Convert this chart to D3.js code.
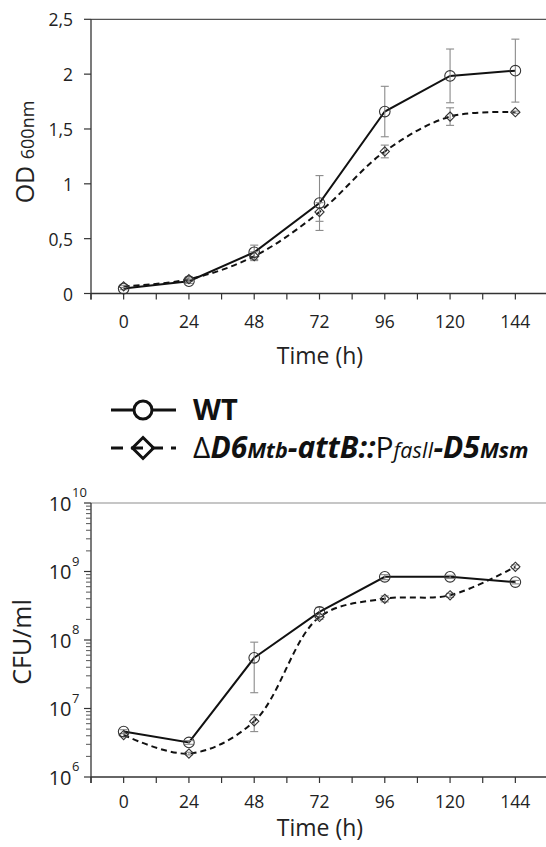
<!DOCTYPE html>
<html><head><meta charset="utf-8">
<script src="https://cdn.jsdelivr.net/npm/d3@7"></script>
<style>html,body{margin:0;padding:0;background:#fff;}svg{display:block;font-family:"Open Sans",sans-serif;}</style>
</head><body>
<svg id="c" width="546" height="847"></svg>
<script>
// ---- data ----
const times = ["0","24","48","72","96","120","144"];
const odTicks = [0, 0.5, 1, 1.5, 2, 2.5];
const odTickLabels = ["0","0,5","1","1,5","2","2,5"];
const odWT = [0.045, 0.112, 0.376, 0.825, 1.659, 1.984, 2.032];
const odWTerr = [0.01, 0.02, 0.065, 0.25, 0.23, 0.245, 0.287];
const odMut = [0.065, 0.13, 0.34, 0.743, 1.295, 1.613, 1.653];
const odMutErr = [0.01, 0.02, 0.04, 0.085, 0.058, 0.08, 0.01];
const cfuExp = [6, 7, 8, 9, 10];
const cfuWT = [4.6e6, 3.2e6, 5.5e7, 2.57e8, 8.35e8, 8.35e8, 7.0e8];
const cfuWTlow = [4.3e6, 3.0e6, 1.7e7, 2.2e8, 7.6e8, 7.9e8, 6.6e8];
const cfuWThigh = [4.9e6, 3.4e6, 9.3e7, 3.0e8, 9.0e8, 8.8e8, 7.4e8];
const cfuMut = [4.1e6, 2.2e6, 6.5e6, 2.17e8, 4.0e8, 4.5e8, 1.17e9];
const cfuMutLow = [3.9e6, 2.1e6, 4.6e6, 2.0e8, 3.6e8, 4.2e8, 1.1e9];
const cfuMutHigh = [4.3e6, 2.3e6, 8.1e6, 2.35e8, 4.4e8, 4.8e8, 1.25e9];

const svg = d3.select("#c");
const axisCol = "#333";
const errCol = "#8a8a8a";
const mkCol = "#333";

const x = d3.scaleBand().domain(times).range([91, 548]).paddingInner(0).paddingOuter(0);
const cx = t => x(t) + x.bandwidth() / 2;

function xAxis(yPos, labelY, titleY) {
  const g = svg.append("g");
  g.append("line").attr("x1", 91).attr("x2", 546).attr("y1", yPos).attr("y2", yPos)
    .attr("stroke", axisCol).attr("stroke-width", 1.3);
  const tickPos = [];
  times.forEach(t => { tickPos.push(x(t)); tickPos.push(cx(t)); });
  g.selectAll(".xt").data(tickPos).join("line")
    .attr("x1", d => d).attr("x2", d => d).attr("y1", yPos).attr("y2", yPos + 6)
    .attr("stroke", axisCol).attr("stroke-width", 1.2);
  g.selectAll(".xl").data(times).join("text")
    .attr("x", d => cx(d)).attr("y", labelY).attr("text-anchor", "middle")
    .attr("dominant-baseline", "central").attr("font-size", 17.5).attr("fill", "#222").text(d => d);
  g.append("text").attr("x", 320).attr("y", titleY).attr("text-anchor", "middle")
    .attr("dominant-baseline", "central").attr("font-size", 23).attr("fill", "#222").text("Time (h)");
}

function drawSeries(yFn, wt, mut, wtLo, wtHi, mutLo, mutHi) {
  const lineWT = d3.line().x((d, i) => cx(times[i])).y(d => yFn(d));
  const lineMut = d3.line().x((d, i) => cx(times[i])).y(d => yFn(d)).curve(d3.curveCatmullRom.alpha(0.5));
  svg.append("path").attr("d", lineMut(mut)).attr("fill", "none").attr("stroke", "#111")
    .attr("stroke-width", 2).attr("stroke-dasharray", "6,4");
  svg.append("path").attr("d", lineWT(wt)).attr("fill", "none").attr("stroke", "#111")
    .attr("stroke-width", 2);
  const errs = [];
  times.forEach((t, i) => {
    errs.push({x: cx(t), lo: yFn(wtLo[i]), hi: yFn(wtHi[i])});
    errs.push({x: cx(t), lo: yFn(mutLo[i]), hi: yFn(mutHi[i])});
  });
  const eg = svg.append("g").attr("stroke", errCol).attr("stroke-width", 1.1);
  errs.forEach(e => {
    eg.append("line").attr("x1", e.x).attr("x2", e.x).attr("y1", e.lo).attr("y2", e.hi);
    eg.append("line").attr("x1", e.x - 4).attr("x2", e.x + 4).attr("y1", e.lo).attr("y2", e.lo);
    eg.append("line").attr("x1", e.x - 4).attr("x2", e.x + 4).attr("y1", e.hi).attr("y2", e.hi);
  });
  svg.append("g").selectAll("path").data(mut).join("path")
    .attr("d", (d, i) => { const px = cx(times[i]), py = yFn(d), r = 4.6;
      return `M${px},${py - r}L${px + r},${py}L${px},${py + r}L${px - r},${py}Z`; })
    .attr("fill", "none").attr("stroke", mkCol).attr("stroke-width", 1.1);
  svg.append("g").selectAll("circle").data(wt).join("circle")
    .attr("cx", (d, i) => cx(times[i])).attr("cy", d => yFn(d)).attr("r", 5.3)
    .attr("fill", "none").attr("stroke", mkCol).attr("stroke-width", 1.1);
}

// ---- top chart: OD600 ----
const yOD = d3.scaleLinear().domain([0, 2.5]).range([293.5, 19.3]);
svg.append("line").attr("x1", 91).attr("x2", 546).attr("y1", yOD(2.5)).attr("y2", yOD(2.5))
  .attr("stroke", "#555").attr("stroke-width", 1.2);
svg.append("line").attr("x1", 91).attr("x2", 91).attr("y1", yOD(2.5)).attr("y2", yOD(0) + 6)
  .attr("stroke", axisCol).attr("stroke-width", 1.3);
svg.selectAll(".yt").data(odTicks).join("line")
  .attr("x1", 84).attr("x2", 91).attr("y1", d => yOD(d)).attr("y2", d => yOD(d))
  .attr("stroke", axisCol).attr("stroke-width", 1.2);
svg.selectAll(".yl").data(odTicks).join("text")
  .attr("x", 73).attr("y", d => yOD(d)).attr("text-anchor", "end").attr("dominant-baseline", "central")
  .attr("font-size", 17.5).attr("fill", "#222").text((d, i) => odTickLabels[i]);
const odT = svg.append("text").attr("transform", "translate(34,152) rotate(-90)")
  .attr("text-anchor", "middle").attr("fill", "#222");
odT.append("tspan").attr("font-size", 25).text("OD ");
odT.append("tspan").attr("font-size", 18).text("600nm");
xAxis(yOD(0), 321, 355);
drawSeries(yOD, odWT, odMut,
  odWT.map((v, i) => v - odWTerr[i]), odWT.map((v, i) => v + odWTerr[i]),
  odMut.map((v, i) => v - odMutErr[i]), odMut.map((v, i) => v + odMutErr[i]));

// ---- legend ----
const lg = svg.append("g");
lg.append("line").attr("x1", 111).attr("x2", 176).attr("y1", 410).attr("y2", 410)
  .attr("stroke", "#111").attr("stroke-width", 3);
lg.append("circle").attr("cx", 143).attr("cy", 410).attr("r", 9).attr("fill", "#fff")
  .attr("stroke", "#111").attr("stroke-width", 3);
lg.append("text").attr("x", 193).attr("y", 420).attr("font-size", 29).attr("font-weight", "bold")
  .attr("fill", "#111").text("WT");
lg.append("line").attr("x1", 111).attr("x2", 176).attr("y1", 448).attr("y2", 448)
  .attr("stroke", "#111").attr("stroke-width", 3).attr("stroke-dasharray", "12,8");
lg.append("path").attr("d", "M143,437.5L153.5,448L143,458.5L132.5,448Z").attr("fill", "none")
  .attr("stroke", "#111").attr("stroke-width", 3);
const mt = lg.append("text").attr("x", 193).attr("y", 458).attr("fill", "#111");
const parts = [
  {t: "\u0394", s: 30, w: "normal", i: "normal"},
  {t: "D6", s: 30, w: "bold", i: "italic"},
  {t: "Mtb", s: 21.5, w: "bold", i: "italic"},
  {t: "-attB::", s: 30, w: "bold", i: "italic"},
  {t: "P", s: 30, w: "normal", i: "normal"},
  {t: "fasII", s: 21.5, w: "normal", i: "italic"},
  {t: "-D5", s: 30, w: "bold", i: "italic"},
  {t: "Msm", s: 21.5, w: "bold", i: "italic"}
];
parts.forEach(p => mt.append("tspan").attr("font-size", p.s).attr("font-weight", p.w)
  .attr("font-style", p.i).text(p.t));

// ---- bottom chart: CFU/ml ----
const yCFU = d3.scaleLog().domain([1e6, 1e10]).range([777, 503]);
svg.append("line").attr("x1", 91).attr("x2", 546).attr("y1", yCFU(1e10)).attr("y2", yCFU(1e10))
  .attr("stroke", "#b3b3b3").attr("stroke-width", 1.3);
svg.append("line").attr("x1", 91).attr("x2", 91).attr("y1", yCFU(1e10)).attr("y2", yCFU(1e6) + 6)
  .attr("stroke", axisCol).attr("stroke-width", 1.3);
const minor = [];
for (let e = 6; e < 10; e++) for (let m = 2; m <= 9; m++) minor.push(m * Math.pow(10, e));
svg.selectAll(".mt").data(minor).join("line")
  .attr("x1", 86).attr("x2", 91).attr("y1", d => yCFU(d)).attr("y2", d => yCFU(d))
  .attr("stroke", "#555").attr("stroke-width", 1);
svg.selectAll(".Mt").data(cfuExp).join("line")
  .attr("x1", 84).attr("x2", 91).attr("y1", d => yCFU(Math.pow(10, d))).attr("y2", d => yCFU(Math.pow(10, d)))
  .attr("stroke", axisCol).attr("stroke-width", 1.2);
svg.selectAll(".Ml").data(cfuExp).join("text")
  .attr("x", 71.5).attr("y", d => yCFU(Math.pow(10, d))).attr("text-anchor", "end")
  .attr("dominant-baseline", "central").attr("font-size", 20).attr("fill", "#222").text("10");
svg.selectAll(".Me").data(cfuExp).join("text")
  .attr("x", 72).attr("y", d => yCFU(Math.pow(10, d)) - 11).attr("text-anchor", "start")
  .attr("dominant-baseline", "central").attr("font-size", 13).attr("fill", "#222").text(d => d);
svg.append("text").attr("transform", "translate(31,642) rotate(-90)").attr("text-anchor", "middle")
  .attr("font-size", 25).attr("fill", "#222").text("CFU/ml");
xAxis(yCFU(1e6), 801, 827);
drawSeries(yCFU, cfuWT, cfuMut, cfuWTlow, cfuWThigh, cfuMutLow, cfuMutHigh);
</script>
</body></html>
